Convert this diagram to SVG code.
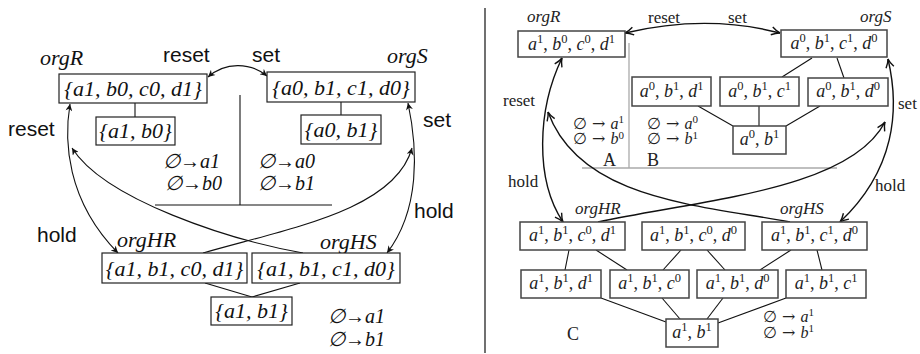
<svg xmlns="http://www.w3.org/2000/svg" width="920" height="354" viewBox="0 0 920 354">
<style>
.lt{font-family:"Liberation Serif","DejaVu Serif",serif;font-style:italic;font-size:22px;fill:#111}
.lr{font-family:"Liberation Serif","DejaVu Serif",serif;font-style:italic;font-size:20px;fill:#111}
.ls{font-family:"Liberation Sans",Arial,sans-serif;font-size:21px;fill:#111}
.lb{fill:#fff;stroke:#222;stroke-width:1.2}
.ll{fill:none;stroke:#111;stroke-width:1.1}
.la{fill:none;stroke:#111;stroke-width:1.1;marker-start:url(#ahl);marker-end:url(#ahl)}
.la1{fill:none;stroke:#111;stroke-width:1.1;marker-end:url(#ahl)}
.rm{font-family:"Liberation Serif","DejaVu Serif",serif;font-size:18px;fill:#222}
.rr{font-family:"Liberation Serif","DejaVu Serif",serif;font-size:16px;fill:#222}
.sy{font-family:"DejaVu Serif",serif}
.i{font-style:italic}
.sp{font-size:12.5px}
.sq{font-size:11px}
.rl{font-family:"Liberation Serif","DejaVu Serif",serif;font-size:17px;fill:#222}
.rb{fill:#fff;stroke:#444;stroke-width:1.5}
.rln{fill:none;stroke:#111;stroke-width:1.1}
.gr{fill:none;stroke:#aaa;stroke-width:1.3}
.ra{fill:none;stroke:#111;stroke-width:1.4;marker-start:url(#ahr);marker-end:url(#ahr)}
.ra1{fill:none;stroke:#111;stroke-width:1.4;marker-end:url(#ahr)}
</style>
<defs>
<marker id="ahl" viewBox="0 0 10 10" refX="10" refY="5" markerWidth="9" markerHeight="7" markerUnits="userSpaceOnUse" orient="auto-start-reverse"><path d="M0,0 L10,5 L0,10 L3,5 z" fill="#111"/></marker>
<marker id="ahr" viewBox="0 0 10 10" refX="9.5" refY="5" markerWidth="10" markerHeight="10" markerUnits="userSpaceOnUse" orient="auto-start-reverse"><path d="M1,1 Q6,4.3 9.5,5 Q6,5.7 1,9" fill="none" stroke="#111" stroke-width="1.4"/></marker>
</defs>
<rect width="920" height="354" fill="#fff"/>

<!-- ===== Left panel ===== -->
<g id="left-connectors">
<line class="ll" x1="135" y1="103" x2="135" y2="117"/>
<line class="ll" x1="341" y1="102" x2="341" y2="115"/>
<line class="ll" x1="240" y1="95" x2="240" y2="205"/>
<line class="ll" x1="155" y1="205" x2="332" y2="205"/>
<line class="ll" x1="205" y1="283" x2="252" y2="297"/>
<line class="ll" x1="300" y1="283" x2="252" y2="297"/>
<path class="la" d="M208,77 C225,62 250,62 267,76"/>
<path class="la" d="M70,104 C64,140 66,200 118,253"/>
<path class="la1" d="M303,253 C230,240 105,200 72,148"/>
<path class="la1" d="M203,253 C290,228 395,210 412,148"/>
<path class="la" d="M408,103 C418,150 420,210 387,253"/>
<text class="ls" x="163" y="62">reset</text>
<text class="ls" x="252" y="62">set</text>
<text class="ls" x="8" y="136">reset</text>
<text class="ls" x="423" y="127">set</text>
<text class="ls" x="37" y="242">hold</text>
<text class="ls" x="414" y="218">hold</text>
</g>
<g id="orgR-left">
<text class="lt" x="40" y="65">orgR</text>
<rect class="lb" x="59" y="74" width="148" height="29"/>
<text class="lt" x="133" y="96" text-anchor="middle">{a1, b0, c0, d1}</text>
</g>
<g id="orgS-left">
<text class="lt" x="387" y="63">orgS</text>
<rect class="lb" x="267" y="72" width="148" height="30"/>
<text class="lt" x="341" y="95" text-anchor="middle">{a0, b1, c1, d0}</text>
</g>
<g id="a1b0-left">
<rect class="lb" x="96" y="117" width="79" height="28"/>
<text class="lt" x="135.5" y="138" text-anchor="middle">{a1, b0}</text>
</g>
<g id="a0b1-left">
<rect class="lb" x="301" y="115" width="80" height="29"/>
<text class="lt" x="341" y="137" text-anchor="middle">{a0, b1}</text>
</g>
<g id="orgHR-left">
<text class="lt" x="117" y="247">orgHR</text>
<rect class="lb" x="102" y="253" width="145" height="30"/>
<text class="lt" x="174.5" y="276" text-anchor="middle">{a1, b1, c0, d1}</text>
</g>
<g id="orgHS-left">
<text class="lt" x="320" y="249">orgHS</text>
<rect class="lb" x="252" y="253" width="148" height="30"/>
<text class="lt" x="326" y="276" text-anchor="middle">{a1, b1, c1, d0}</text>
</g>
<g id="a1b1-left">
<rect class="lb" x="211" y="297" width="81" height="28"/>
<text class="lt" x="251.5" y="318" text-anchor="middle">{a1, b1}</text>
</g>
<g id="left-rules">
<text class="lr" x="163" y="168">∅→a1</text>
<text class="lr" x="165" y="190">∅→b0</text>
<text class="lr" x="258" y="168">∅→a0</text>
<text class="lr" x="258" y="190">∅→b1</text>
<text class="lr" x="328" y="323">∅→a1</text>
<text class="lr" x="328" y="346">∅→b1</text>
</g>

<line x1="485" y1="8" x2="485" y2="353" stroke="#111" stroke-width="1.2"/>

<!-- ===== Right panel ===== -->
<g id="right-connectors">
<line class="gr" x1="629" y1="43" x2="629" y2="168"/>
<line class="gr" x1="582" y1="168" x2="837" y2="168"/>
<line class="rln" x1="812" y1="58" x2="782" y2="77"/>
<line class="rln" x1="837" y1="58" x2="844" y2="78"/>
<line class="rln" x1="698" y1="106" x2="733" y2="126"/>
<line class="rln" x1="759" y1="106" x2="759" y2="126"/>
<line class="rln" x1="820" y1="106" x2="786" y2="126"/>
<line class="rln" x1="569" y1="250" x2="565" y2="270"/>
<line class="rln" x1="596" y1="250" x2="627" y2="270"/>
<line class="rln" x1="681" y1="250" x2="663" y2="270"/>
<line class="rln" x1="707" y1="250" x2="725" y2="270"/>
<line class="rln" x1="791" y1="250" x2="760" y2="270"/>
<line class="rln" x1="817" y1="250" x2="822" y2="270"/>
<line class="rln" x1="601" y1="298" x2="666" y2="322"/>
<line class="rln" x1="662" y1="298" x2="680" y2="319"/>
<line class="rln" x1="723" y1="298" x2="707" y2="319"/>
<line class="rln" x1="786" y1="298" x2="718" y2="323"/>
<path class="ra" d="M625,33 C680,20 730,20 780,33"/>
<path class="ra" d="M562,58 C537,110 535,180 563,222"/>
<path class="ra1" d="M790,222 C700,205 580,200 548,112"/>
<path class="ra1" d="M598,222 C700,200 850,190 885,122"/>
<path class="ra" d="M888,59 C900,110 895,170 840,222"/>
<text class="rl" x="648" y="23">reset</text>
<text class="rl" x="728" y="23">set</text>
<text class="rl" x="503" y="106">reset</text>
<text class="rl" x="898" y="109">set</text>
<text class="rl" x="508" y="187">hold</text>
<text class="rl" x="875" y="191">hold</text>
</g>
<g id="orgR-right">
<text class="rl i" x="527" y="22">orgR</text>
<rect class="rb" x="518" y="31" width="107" height="26"/>
<text class="rm" x="571.5" y="50" text-anchor="middle"><tspan class="i">a</tspan><tspan class="sp" dy="-7">1</tspan><tspan dy="7">, </tspan><tspan class="i">b</tspan><tspan class="sp" dy="-7">0</tspan><tspan dy="7">, </tspan><tspan class="i">c</tspan><tspan class="sp" dy="-7">0</tspan><tspan dy="7">, </tspan><tspan class="i">d</tspan><tspan class="sp" dy="-7">1</tspan></text>
</g>
<g id="orgS-right">
<text class="rl i" x="860" y="22">orgS</text>
<rect class="rb" x="781" y="30" width="106" height="27"/>
<text class="rm" x="834" y="49" text-anchor="middle"><tspan class="i">a</tspan><tspan class="sp" dy="-7">0</tspan><tspan dy="7">, </tspan><tspan class="i">b</tspan><tspan class="sp" dy="-7">1</tspan><tspan dy="7">, </tspan><tspan class="i">c</tspan><tspan class="sp" dy="-7">1</tspan><tspan dy="7">, </tspan><tspan class="i">d</tspan><tspan class="sp" dy="-7">0</tspan></text>
</g>
<g id="a0b1d1">
<rect class="rb" x="632" y="77" width="79" height="29"/>
<text class="rm" x="671.5" y="97" text-anchor="middle"><tspan class="i">a</tspan><tspan class="sp" dy="-7">0</tspan><tspan dy="7">, </tspan><tspan class="i">b</tspan><tspan class="sp" dy="-7">1</tspan><tspan dy="7">, </tspan><tspan class="i">d</tspan><tspan class="sp" dy="-7">1</tspan></text>
</g>
<g id="a0b1c1">
<rect class="rb" x="720" y="77" width="79" height="29"/>
<text class="rm" x="759.5" y="97" text-anchor="middle"><tspan class="i">a</tspan><tspan class="sp" dy="-7">0</tspan><tspan dy="7">, </tspan><tspan class="i">b</tspan><tspan class="sp" dy="-7">1</tspan><tspan dy="7">, </tspan><tspan class="i">c</tspan><tspan class="sp" dy="-7">1</tspan></text>
</g>
<g id="a0b1d0">
<rect class="rb" x="808" y="78" width="80" height="28"/>
<text class="rm" x="848" y="97" text-anchor="middle"><tspan class="i">a</tspan><tspan class="sp" dy="-7">0</tspan><tspan dy="7">, </tspan><tspan class="i">b</tspan><tspan class="sp" dy="-7">1</tspan><tspan dy="7">, </tspan><tspan class="i">d</tspan><tspan class="sp" dy="-7">0</tspan></text>
</g>
<g id="a0b1">
<rect class="rb" x="733" y="126" width="53" height="28"/>
<text class="rm" x="759.5" y="145" text-anchor="middle"><tspan class="i">a</tspan><tspan class="sp" dy="-7">0</tspan><tspan dy="7">, </tspan><tspan class="i">b</tspan><tspan class="sp" dy="-7">1</tspan></text>
</g>
<g id="orgHR-right">
<text class="rl i" x="575" y="214">orgHR</text>
<rect class="rb" x="520" y="222" width="105" height="28"/>
<text class="rm" x="572.5" y="241" text-anchor="middle"><tspan class="i">a</tspan><tspan class="sp" dy="-7">1</tspan><tspan dy="7">, </tspan><tspan class="i">b</tspan><tspan class="sp" dy="-7">1</tspan><tspan dy="7">, </tspan><tspan class="i">c</tspan><tspan class="sp" dy="-7">0</tspan><tspan dy="7">, </tspan><tspan class="i">d</tspan><tspan class="sp" dy="-7">1</tspan></text>
</g>
<g id="a1b1c0d0">
<rect class="rb" x="642" y="222" width="103" height="28"/>
<text class="rm" x="693.5" y="241" text-anchor="middle"><tspan class="i">a</tspan><tspan class="sp" dy="-7">1</tspan><tspan dy="7">, </tspan><tspan class="i">b</tspan><tspan class="sp" dy="-7">1</tspan><tspan dy="7">, </tspan><tspan class="i">c</tspan><tspan class="sp" dy="-7">0</tspan><tspan dy="7">, </tspan><tspan class="i">d</tspan><tspan class="sp" dy="-7">0</tspan></text>
</g>
<g id="orgHS-right">
<text class="rl i" x="780" y="214">orgHS</text>
<rect class="rb" x="762" y="222" width="105" height="28"/>
<text class="rm" x="814.5" y="241" text-anchor="middle"><tspan class="i">a</tspan><tspan class="sp" dy="-7">1</tspan><tspan dy="7">, </tspan><tspan class="i">b</tspan><tspan class="sp" dy="-7">1</tspan><tspan dy="7">, </tspan><tspan class="i">c</tspan><tspan class="sp" dy="-7">1</tspan><tspan dy="7">, </tspan><tspan class="i">d</tspan><tspan class="sp" dy="-7">0</tspan></text>
</g>
<g id="a1b1d1">
<rect class="rb" x="521" y="270" width="80" height="28"/>
<text class="rm" x="561" y="289" text-anchor="middle"><tspan class="i">a</tspan><tspan class="sp" dy="-7">1</tspan><tspan dy="7">, </tspan><tspan class="i">b</tspan><tspan class="sp" dy="-7">1</tspan><tspan dy="7">, </tspan><tspan class="i">d</tspan><tspan class="sp" dy="-7">1</tspan></text>
</g>
<g id="a1b1c0">
<rect class="rb" x="610" y="270" width="79" height="28"/>
<text class="rm" x="649.5" y="289" text-anchor="middle"><tspan class="i">a</tspan><tspan class="sp" dy="-7">1</tspan><tspan dy="7">, </tspan><tspan class="i">b</tspan><tspan class="sp" dy="-7">1</tspan><tspan dy="7">, </tspan><tspan class="i">c</tspan><tspan class="sp" dy="-7">0</tspan></text>
</g>
<g id="a1b1d0">
<rect class="rb" x="697" y="270" width="81" height="28"/>
<text class="rm" x="737.5" y="289" text-anchor="middle"><tspan class="i">a</tspan><tspan class="sp" dy="-7">1</tspan><tspan dy="7">, </tspan><tspan class="i">b</tspan><tspan class="sp" dy="-7">1</tspan><tspan dy="7">, </tspan><tspan class="i">d</tspan><tspan class="sp" dy="-7">0</tspan></text>
</g>
<g id="a1b1c1">
<rect class="rb" x="786" y="270" width="80" height="28"/>
<text class="rm" x="826" y="289" text-anchor="middle"><tspan class="i">a</tspan><tspan class="sp" dy="-7">1</tspan><tspan dy="7">, </tspan><tspan class="i">b</tspan><tspan class="sp" dy="-7">1</tspan><tspan dy="7">, </tspan><tspan class="i">c</tspan><tspan class="sp" dy="-7">1</tspan></text>
</g>
<g id="a1b1">
<rect class="rb" x="666" y="319" width="52" height="28"/>
<text class="rm" x="692" y="338" text-anchor="middle"><tspan class="i">a</tspan><tspan class="sp" dy="-7">1</tspan><tspan dy="7">, </tspan><tspan class="i">b</tspan><tspan class="sp" dy="-7">1</tspan></text>
</g>
<g id="right-rules">
<text class="rr" x="573" y="128.5"><tspan class="sy">∅ → </tspan><tspan class="i">a</tspan><tspan class="sq" dy="-5.5">1</tspan><tspan class="sy" x="573" dy="21">∅ → </tspan><tspan class="i">b</tspan><tspan class="sq" dy="-5.5">0</tspan></text>
<text class="rr" x="647" y="128.5"><tspan class="sy">∅ → </tspan><tspan class="i">a</tspan><tspan class="sq" dy="-5.5">0</tspan><tspan class="sy" x="647" dy="21">∅ → </tspan><tspan class="i">b</tspan><tspan class="sq" dy="-5.5">1</tspan></text>
<text class="rm" x="603" y="166">A</text>
<text class="rm" x="647" y="166">B</text>
<text class="rm" x="567" y="340">C</text>
<text class="rr" x="763" y="321.5"><tspan class="sy">∅ → </tspan><tspan class="i">a</tspan><tspan class="sq" dy="-5.5">1</tspan><tspan class="sy" x="763" dy="21.5">∅ → </tspan><tspan class="i">b</tspan><tspan class="sq" dy="-5.5">1</tspan></text>
</g>
</svg>
